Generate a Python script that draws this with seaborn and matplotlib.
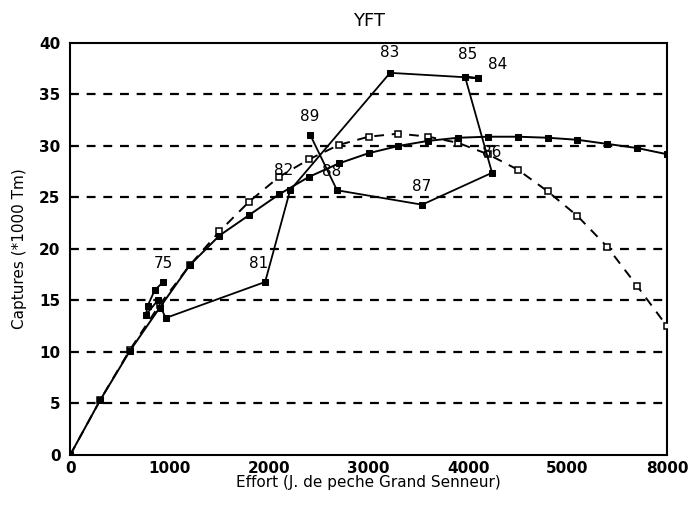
import matplotlib
matplotlib.use("Agg")
import matplotlib.pyplot as plt
import seaborn as sns
import pandas as pd

# ---- data ----
effort_model = [0, 300, 600, 900, 1200, 1500, 1800, 2100, 2400, 2700, 3000,
                3300, 3600, 3900, 4200, 4500, 4800, 5100, 5400, 5700, 6000]
catch_model_dashed = [0, 5.3, 10.2, 14.6, 18.4, 21.7, 24.6, 27.0, 28.7, 30.1, 30.9,
                      31.2, 30.9, 30.3, 29.2, 27.7, 25.6, 23.2, 20.2, 16.4, 12.5]
catch_model_solid = [0, 5.3, 10.1, 14.3, 18.4, 21.3, 23.3, 25.3, 27.0, 28.3, 29.3,
                     30.0, 30.5, 30.8, 30.9, 30.9, 30.8, 30.6, 30.2, 29.8, 29.2]

years = ["75", "76", "77", "78", "79", "80", "81", "82", "83", "84",
         "85", "86", "87", "88", "89"]
effort_obs = [935, 850, 780, 760, 880, 960, 1960, 2211, 3216, 4100,
              3970, 4241, 3538, 2683, 2412]
catch_obs = [16.8, 16.0, 14.5, 13.6, 15.0, 13.3, 16.8, 25.7, 37.1, 36.6,
             36.7, 27.4, 24.3, 25.7, 31.1]
shown_labels = ["75", "81", "82", "83", "84", "85", "86", "87", "88", "89"]

x_ticks = [0, 1000, 2000, 3000, 4000, 5000, 6000]
x_tick_labels = ["0", "1000", "2000", "3000", "4000", "5000", "8000"]
y_ticks = [0, 5, 10, 15, 20, 25, 30, 35, 40]

# ---- plot ----
sns.set_style("white")
plt.rcParams['font.family'] = ['DejaVu Sans']
plt.rcParams['text.color'] = 'black'
plt.rcParams['axes.labelcolor'] = 'black'

fig = plt.figure(figsize=(6.88, 5.11), dpi=100)
ax = fig.add_axes([0.102, 0.1096, 0.8675, 0.8063])

for yv in y_ticks[1:-1]:
    ax.axhline(yv, color='black', lw=1.6, ls=(0, (4, 3.5)), zorder=1)

df_model = pd.DataFrame({"effort": effort_model,
                         "dashed": catch_model_dashed,
                         "solid": catch_model_solid})
df_obs = pd.DataFrame({"effort": effort_obs, "catch": catch_obs, "year": years})

sns.lineplot(data=df_model, x="effort", y="dashed", ax=ax, color='black',
             lw=1.4, ls=(0, (5, 4)), marker='s', markersize=5,
             markerfacecolor='white', markeredgecolor='black', markeredgewidth=1.1,
             sort=False, zorder=3)
sns.lineplot(data=df_model, x="effort", y="solid", ax=ax, color='black',
             lw=1.4, marker='s', markersize=5,
             markerfacecolor='black', markeredgecolor='black',
             sort=False, zorder=3)
sns.lineplot(data=df_obs, x="effort", y="catch", ax=ax, color='black',
             lw=1.3, marker='s', markersize=5,
             markerfacecolor='black', markeredgecolor='black',
             sort=False, zorder=4)

offsets = {"75": (0, 8), "81": (-5, 8), "82": (-5, 9), "83": (0, 9),
           "84": (14, 4), "85": (2, 11), "86": (0, 9), "87": (0, 8),
           "88": (-4, 8), "89": (0, 8)}
for yr, ex, cy in zip(years, effort_obs, catch_obs):
    if yr in shown_labels:
        dx, dy = offsets[yr]
        ax.annotate(yr, (ex, cy), xytext=(dx, dy), textcoords='offset points',
                    ha='center', va='bottom', fontsize=11, color='black', zorder=5)

ax.set_xlim(0, 6000)
ax.set_ylim(0, 40)
ax.set_xticks(x_ticks)
ax.set_xticklabels(x_tick_labels)
ax.set_yticks(y_ticks)
ax.tick_params(direction='inout', length=7, width=1.2, labelsize=11,
               colors='black')
ax.tick_params(axis='x', pad=1)
for lbl in ax.get_xticklabels() + ax.get_yticklabels():
    lbl.set_fontweight('bold')
for s in ax.spines.values():
    s.set_color('black')
    s.set_linewidth(1.5)

ax.set_xlabel("Effort (J. de peche Grand Senneur)", fontsize=11, labelpad=-1,
              color='black')
ax.set_ylabel("Captures (*1000 Tm)", fontsize=11, labelpad=9, color='black')
ax.set_title("YFT", fontsize=13, pad=12, color='black')

fig.savefig("out.png", dpi=100)
